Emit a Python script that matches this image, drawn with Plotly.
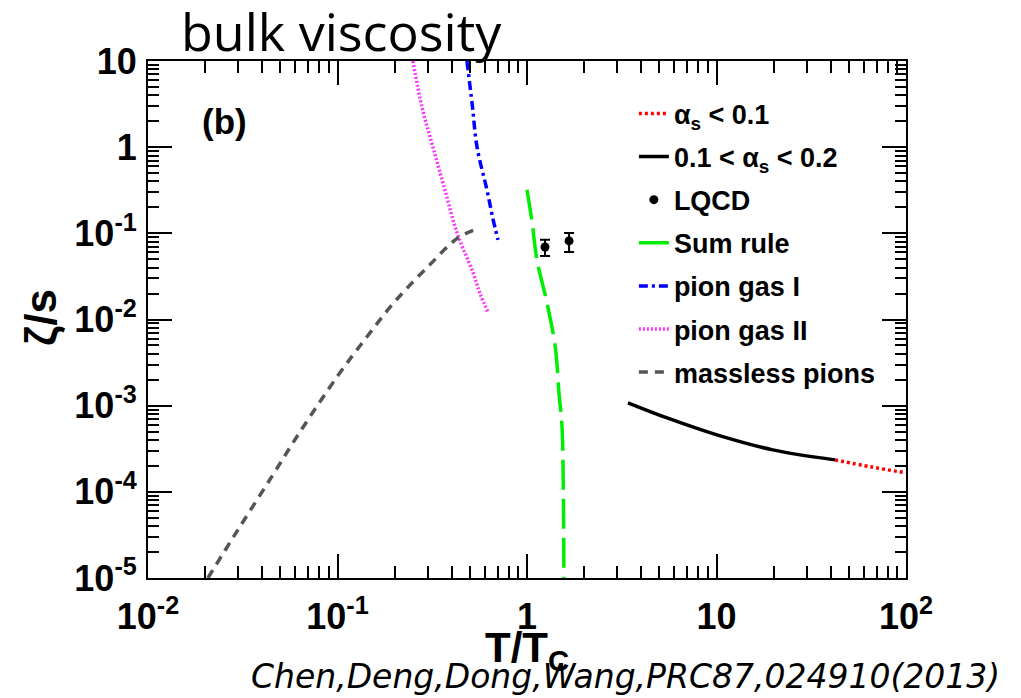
import plotly.graph_objects as go

# ---- data ----
alpha_low_x = [42.2, 65.0, 100.0]
alpha_low_y = [2.35e-4, 1.95e-4, 1.66e-4]

alpha_mid_x = [3.41, 5.49, 10.05, 19.8, 42.2]
alpha_mid_y = [1.08e-3, 7.2e-4, 4.58e-4, 3.07e-4, 2.35e-4]

lqcd_x = [1.245, 1.667]
lqcd_y = [0.0695, 0.0817]
lqcd_err_plus = [0.0145, 0.0193]
lqcd_err_minus = [0.0148, 0.0209]

sum_x = [1.0, 1.063, 1.129, 1.275, 1.41, 1.475, 1.53, 1.555, 1.565]
sum_y = [0.32, 0.135, 0.049, 0.0156, 0.0048, 0.0014, 5.7e-4, 1.0e-4, 1.0e-5]

pion1_x = [0.482, 0.515, 0.545, 0.615, 0.66, 0.703]
pion1_y = [10.0, 3.0, 1.0, 0.318, 0.15, 0.0838]

pion2_x = [0.25, 0.279, 0.319, 0.369, 0.428, 0.519, 0.565, 0.622]
pion2_y = [10.0, 2.93, 1.0, 0.318, 0.1, 0.035, 0.020, 0.0122]

massless_x = [0.0207, 0.03, 0.045, 0.062, 0.1, 0.143, 0.2, 0.3, 0.432, 0.545]
massless_y = [1.0e-5, 3.7e-5, 1.5e-4, 4.6e-4, 2.2e-3, 6.3e-3, 1.6e-2, 4.1e-2, 8.85e-2, 0.112]

x_tick_vals = [0.01, 0.1, 1, 10, 100]
x_tick_text = ["10<sup>-2</sup>", "10<sup>-1</sup>", "1", "10", "10<sup>2</sup>"]
y_tick_vals = [1e-5, 1e-4, 1e-3, 1e-2, 1e-1, 1, 10]
y_tick_text = ["10<sup>-5</sup>", "10<sup>-4</sup>", "10<sup>-3</sup>", "10<sup>-2</sup>",
               "10<sup>-1</sup>", "1", "10"]

x_minor = [k * 10.0 ** n for n in range(-2, 2) for k in range(2, 10)]
y_minor = [k * 10.0 ** n for n in range(-5, 1) for k in range(2, 10)]

fig = go.Figure()

fig.add_trace(go.Scatter(x=alpha_low_x, y=alpha_low_y, mode="lines",
                         line=dict(color="#ff0000", width=3.5, dash="3px,3px", shape="spline"),
                         name="α<sub>s</sub> &lt; 0.1", legendgroup="g1"))
fig.add_trace(go.Scatter(x=alpha_mid_x, y=alpha_mid_y, mode="lines",
                         line=dict(color="#000000", width=3.5, shape="spline"),
                         name="0.1 &lt; α<sub>s</sub> &lt; 0.2", legendgroup="g2"))
fig.add_trace(go.Scatter(x=lqcd_x, y=lqcd_y, mode="markers",
                         marker=dict(color="#000000", size=9),
                         error_y=dict(type="data", array=lqcd_err_plus, arrayminus=lqcd_err_minus,
                                      color="#000000", thickness=2, width=5),
                         name="LQCD", legendgroup="g3"))
fig.add_trace(go.Scatter(x=sum_x, y=sum_y, mode="lines",
                         line=dict(color="#00ee00", width=3.5, dash="30px,9px", shape="spline"),
                         name="Sum rule", legendgroup="g4"))
fig.add_trace(go.Scatter(x=pion1_x, y=pion1_y, mode="lines",
                         line=dict(color="#0000ff", width=3.5, dash="9px,4px,3px,4px", shape="spline"),
                         name="pion gas I", legendgroup="g5"))
fig.add_trace(go.Scatter(x=pion2_x, y=pion2_y, mode="lines",
                         line=dict(color="#ff33ff", width=3.5, dash="2px,2px", shape="spline"),
                         name="pion gas II", legendgroup="g6"))
fig.add_trace(go.Scatter(x=massless_x, y=massless_y, mode="lines",
                         line=dict(color="#555555", width=3.5, dash="9px,7px", shape="spline"),
                         name="massless pions", legendgroup="g7"))

axis_common = dict(
    type="log", showline=True, linecolor="black", linewidth=2, mirror="allticks",
    ticks="inside", ticklen=24, tickwidth=1.5, tickcolor="black",
    showgrid=False, zeroline=False,
    tickfont=dict(family="Liberation Sans, Arial, sans-serif", size=36, color="black", weight="bold"),
    tickmode="array",
)

fig.update_xaxes(**axis_common, range=[-2, 2], tickvals=x_tick_vals, ticktext=x_tick_text,
                 ticklabelstandoff=6,
                 minor=dict(tickvals=x_minor, ticks="inside", ticklen=12, tickwidth=1.5,
                            tickcolor="black", showgrid=False))
fig.update_yaxes(**axis_common, range=[-5, 1], tickvals=y_tick_vals, ticktext=y_tick_text,
                 ticklabelstandoff=2,
                 minor=dict(tickvals=y_minor, ticks="inside", ticklen=11, tickwidth=1.5,
                            tickcolor="black", showgrid=False))

fig.update_layout(
    width=1021, height=698,
    margin=dict(l=148, r=115, t=61, b=120),
    paper_bgcolor="white", plot_bgcolor="white",
    showlegend=True,
    legend=dict(x=0.641, y=0.945, xanchor="left", yanchor="top",
                bgcolor="rgba(0,0,0,0)", borderwidth=0, tracegroupgap=5,
                font=dict(family="Liberation Sans, Arial, sans-serif", size=27, color="black",
                          weight="bold")),
    annotations=[
        dict(text="bulk viscosity", xref="paper", yref="paper", x=(341 - 148) / 758,
             y=1 + (61 + 6) / 517, xanchor="center", yanchor="top", showarrow=False,
             borderpad=0,
             font=dict(family="Open Sans, sans-serif", size=52, color="black")),
        dict(text="(b)", xref="paper", yref="paper", x=(224 - 148) / 758,
             y=(578 - 122) / 517, xanchor="center", yanchor="middle", showarrow=False,
             font=dict(family="Liberation Sans, Arial, sans-serif", size=35, color="black",
                       weight="bold")),
        dict(text="T/T<sub>C</sub>", xref="paper", yref="paper", x=(527 - 148) / 758,
             y=-(650 - 578) / 517, xanchor="center", yanchor="middle", showarrow=False,
             font=dict(family="Liberation Sans, Arial, sans-serif", size=42, color="black",
                       weight="bold")),
        dict(text="ζ/s", xref="paper", yref="paper", x=-(148 - 41) / 758,
             y=(578 - 318) / 517, xanchor="center", yanchor="middle", showarrow=False,
             textangle=-90,
             font=dict(family="Liberation Sans, Arial, sans-serif", size=44, color="black",
                       weight="bold")),
        dict(text="<i>Chen,Deng,Dong,Wang,PRC87,024910(2013)</i>", xref="paper", yref="paper",
             x=(1002 - 148) / 758, y=-(676 - 578) / 517, xanchor="right", yanchor="middle",
             showarrow=False,
             font=dict(family="DejaVu Sans, sans-serif", size=33, color="black")),
    ],
)

fig.write_html("out.html")
